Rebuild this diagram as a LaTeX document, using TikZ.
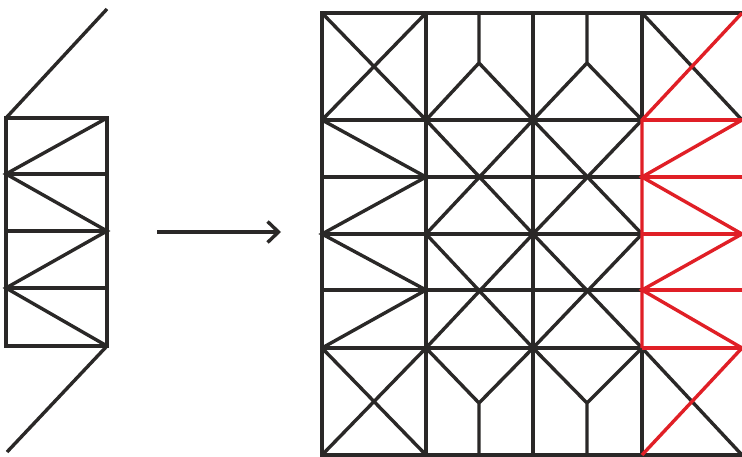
\documentclass[tikz,border=0pt]{standalone}
\usepackage{xcolor}
\usepackage{tikz}
\usetikzlibrary{arrows.meta}
\definecolor{trussdark}{HTML}{2A2827}
\definecolor{trussred}{HTML}{E01F26}

\begin{document}
\begin{tikzpicture}[
  x=1pt, y=-1pt,
  bar/.style={draw=trussdark, line width=3.4pt, line join=miter},
  redbar/.style={draw=trussred, line width=3.4pt, line join=miter},
  arr/.style={-{Straight Barb[length=11pt, width=21pt]}, line width=3.4pt, trussdark}
]
\useasboundingbox (0,0) rectangle (742,457);
% strip before
\draw[bar] (107,9) -- (6,118);
\draw[bar] (6,118) rectangle (107,346);
\foreach \y in {174,231,288} \draw[bar] (6,\y) -- (107,\y);
\draw[bar] (107,118) -- (6,174) -- (107,231) -- (6,288) -- (107,346);
\draw[bar] (107,346) -- (7,452);
% arrow
\coordinate (tail) at (157,232);
\coordinate (head) at (281,232);
\draw[arr] (tail) -- (head);
% grid after
\draw[bar] (742,13) -- (322,13) -- (322,455) -- (742,455);
\foreach \x in {426,533} \draw[bar] (\x,13) -- (\x,455);
\draw[bar] (642,13) -- (642,120);
\draw[bar] (642,348) -- (642,455);
\foreach \y in {120,177,234,290,348} \draw[bar] (322,\y) -- (642,\y);
\draw[bar] (322,13) -- (426,120) (426,13) -- (322,120);
\draw[bar] (322,348) -- (426,455) (426,348) -- (322,455);
\draw[bar] (322,120) -- (426,177) -- (322,234) -- (426,290) -- (322,348);
\foreach \l/\m/\r in {426/479/533, 533/587/642} {
  \draw[bar] (\m,13) -- (\m,63) (\l,120) -- (\m,63) -- (\r,120);
  \draw[bar] (\l,120) -- (\r,234) (\r,120) -- (\l,234);
  \draw[bar] (\l,234) -- (\r,348) (\r,234) -- (\l,348);
  \draw[bar] (\m,455) -- (\m,403) (\l,348) -- (\m,403) -- (\r,348);
}
\draw[bar] (642,13) -- (742,120);
\draw[bar] (642,348) -- (742,455);
% red column
\foreach \y in {120,177,234,290,348} \draw[redbar] (642,\y) -- (742,\y);
\draw[redbar] (742,13) -- (642,120) -- (642,348);
\draw[redbar] (742,120) -- (642,177) -- (742,234) -- (642,290) -- (742,348) -- (642,455);
\end{tikzpicture}
\end{document}
